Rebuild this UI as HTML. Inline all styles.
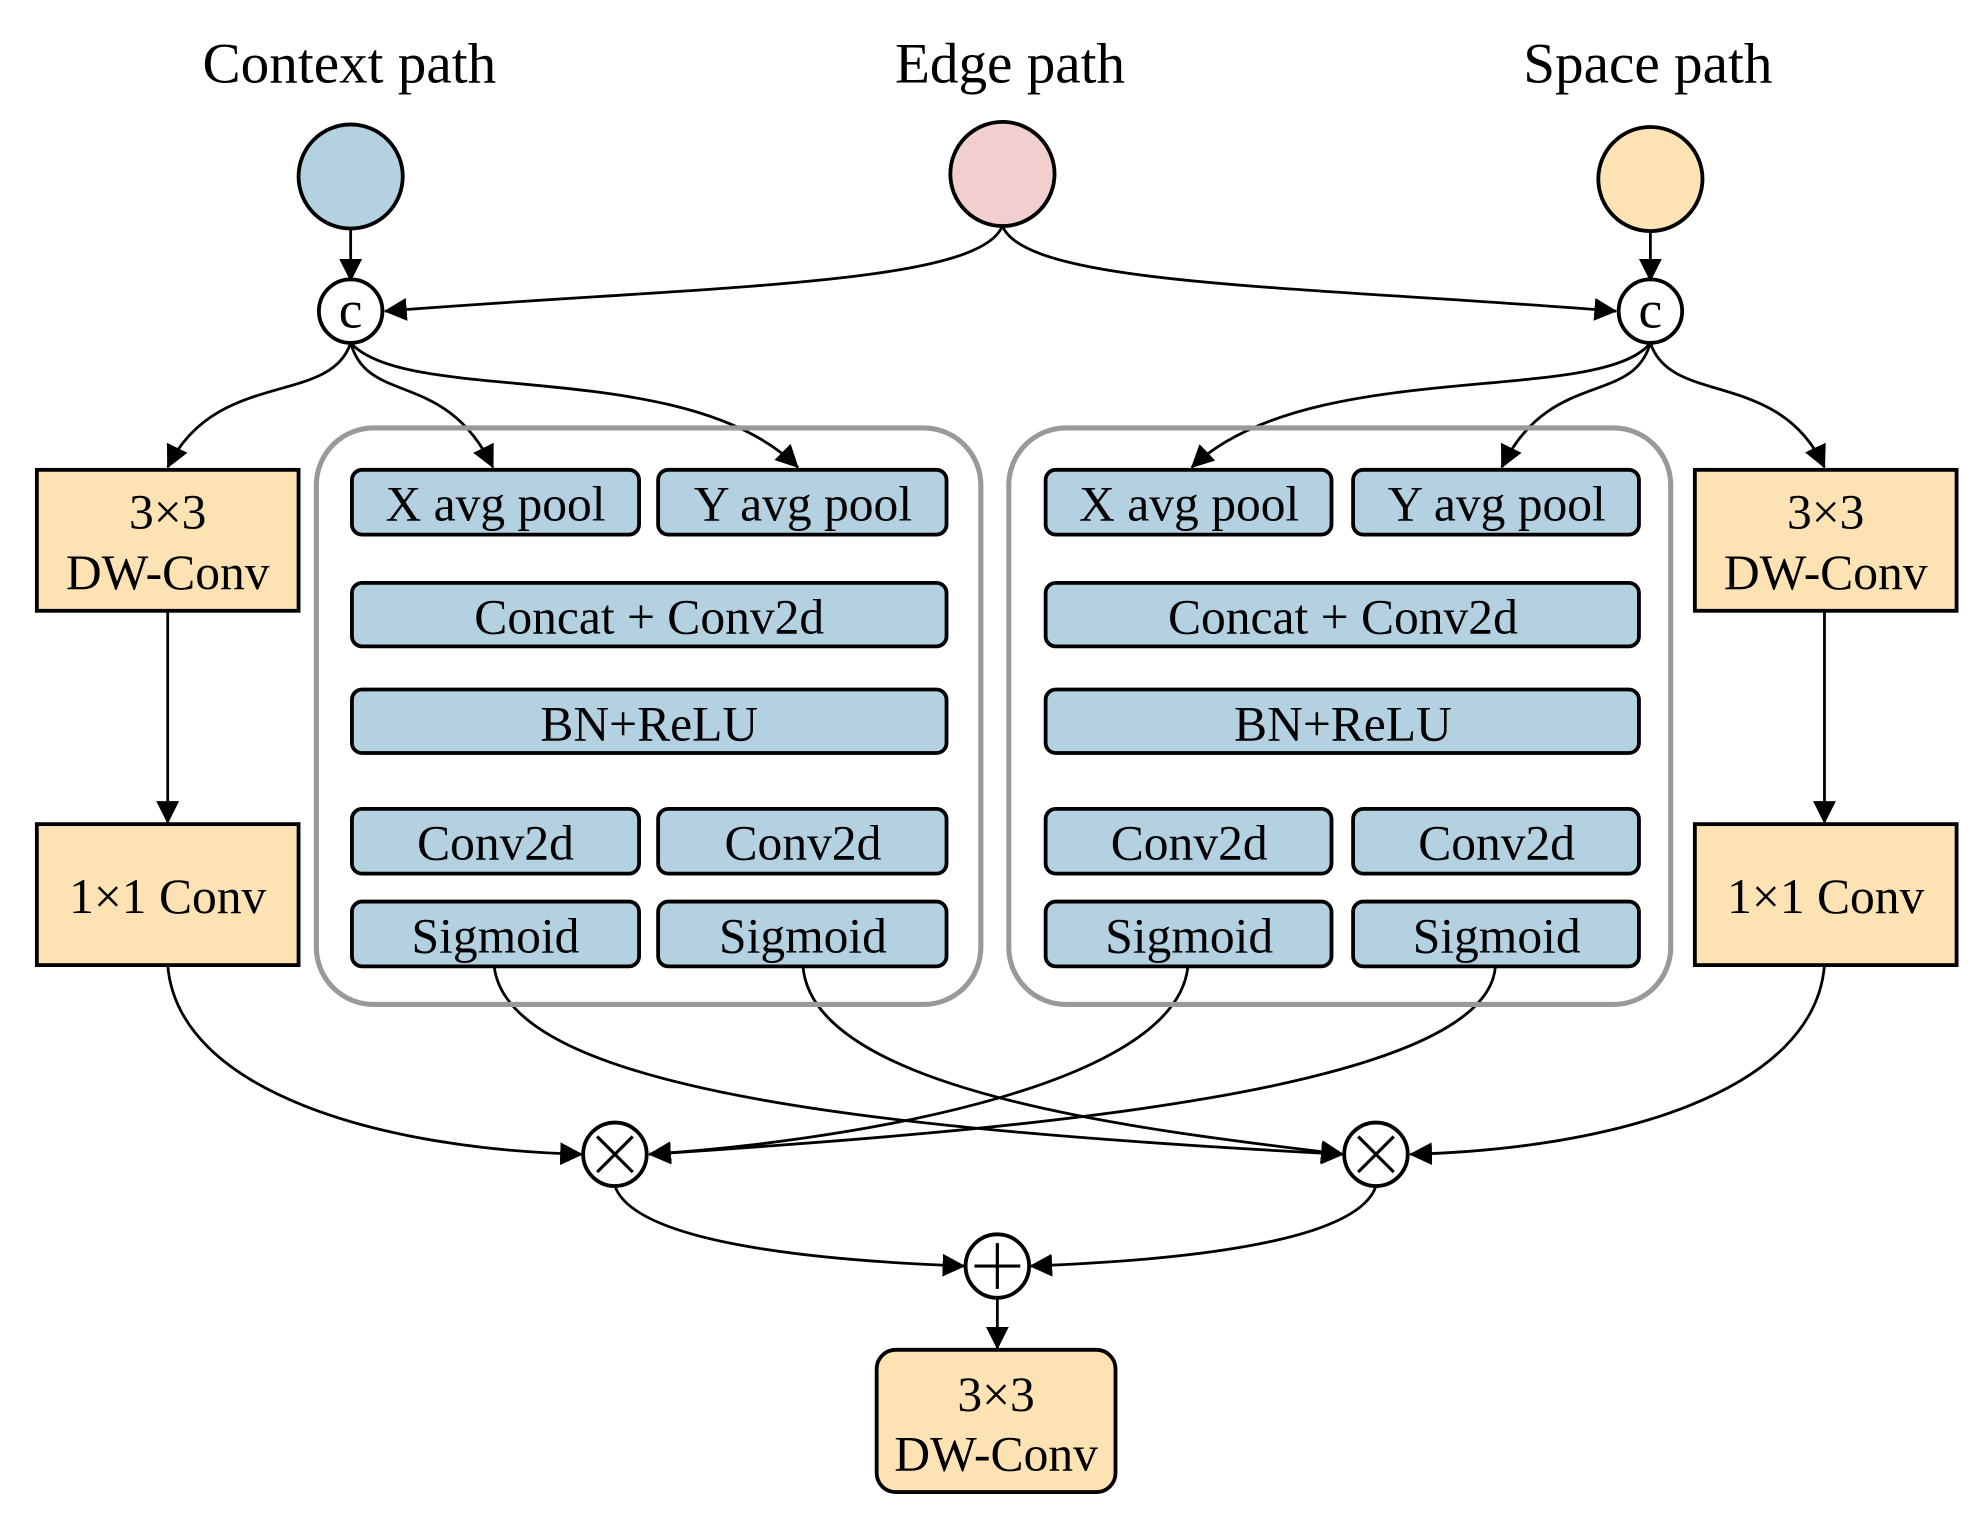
<!DOCTYPE html>
<html><head><meta charset="utf-8"><style>html,body{margin:0;padding:0;background:#fff}svg{display:block}</style></head>
<body>
<svg width="1982" height="1520" viewBox="0 0 1560 1197" preserveAspectRatio="none" xmlns="http://www.w3.org/2000/svg" font-family="Liberation Serif, serif">
<defs><marker id="b" viewBox="0 0 10 10" refX="9.5" refY="5" markerWidth="18" markerHeight="18" markerUnits="userSpaceOnUse" orient="auto"><path d="M0,0L10,5L0,10z" fill="#000"/></marker></defs>
<g font-size="45" text-anchor="middle">
<text x="275" y="65">Context path</text><text x="795" y="65">Edge path</text><text x="1297" y="65">Space path</text></g>
<g stroke="#000" stroke-width="3">
<circle cx="276" cy="139" r="41" fill="#b3d1e0"/><circle cx="789" cy="137" r="41" fill="#f2cfcf"/><circle cx="1299" cy="141" r="41" fill="#fde2b4"/>
<circle cx="276" cy="245" r="25" fill="#fff"/><circle cx="1299" cy="245" r="25" fill="#fff"/>
<circle cx="484" cy="909" r="25" fill="#fff"/><circle cx="1083" cy="909" r="25" fill="#fff"/><circle cx="785" cy="997" r="25" fill="#fff"/>
<path d="M470,895L498,923M498,895L470,923M1069,895L1097,923M1097,895L1069,923M767,997H803M785,979V1015" fill="none" stroke-width="2.5"/>
</g>
<g font-size="42" text-anchor="middle"><text x="276" y="258">c</text><text x="1299" y="258">c</text></g>
<g fill="none" stroke="#000" stroke-width="2.2" marker-end="url(#b)">
<path d="M276,180V221"/><path d="M1299,182V221"/>
<path d="M789,178C770,225 560,225 303,245"/><path d="M789,178C808,225 1020,225 1272,245"/>
<path d="M276,270C260,320 170,290 132,368"/><path d="M276,270C290,320 350,290 388,368"/><path d="M276,270C320,320 540,280 628,368"/>
<path d="M1299,270C1260,320 1030,280 938,368"/><path d="M1299,270C1285,320 1220,290 1182,368"/><path d="M1299,270C1315,320 1400,290 1436,368"/>
<path d="M132,481V648"/><path d="M1436,481V648"/>
<path d="M132,760C140,860 300,905 458,909"/><path d="M1436,760C1428,860 1270,905 1110,909"/>
<path d="M389,761C400,860 700,890 1057,909"/><path d="M632,761C640,860 900,890 1057,909"/>
<path d="M935,761C925,860 650,900 511,909"/><path d="M1177,761C1170,860 800,890 511,909"/>
<path d="M484,934C500,980 650,993 759,997"/><path d="M1083,934C1068,980 920,993 811,997"/>
<path d="M785,1022V1062"/>
</g>
<g fill="none" stroke="#999" stroke-width="4"><rect x="249" y="337" width="523" height="454" rx="45"/><rect x="794" y="337" width="521" height="454" rx="45"/></g>
<g stroke="#000" stroke-width="3" fill="#fde2b4">
<rect x="29" y="370" width="206" height="111"/><rect x="29" y="649" width="206" height="111"/>
<rect x="1334" y="370" width="206" height="111"/><rect x="1334" y="649" width="206" height="111"/>
<rect x="690" y="1063" width="188" height="112" rx="15"/></g>
<g stroke="#000" stroke-width="3" fill="#b3d1e0">
<rect x="277" y="370" width="226" height="51" rx="8"/><rect x="518" y="370" width="227" height="51" rx="8"/>
<rect x="277" y="459" width="468" height="50" rx="8"/><rect x="277" y="543" width="468" height="50" rx="8"/>
<rect x="277" y="637" width="226" height="51" rx="8"/><rect x="518" y="637" width="227" height="51" rx="8"/>
<rect x="277" y="710" width="226" height="51" rx="8"/><rect x="518" y="710" width="227" height="51" rx="8"/>
<rect x="823" y="370" width="225" height="51" rx="8"/><rect x="1065" y="370" width="225" height="51" rx="8"/>
<rect x="823" y="459" width="467" height="50" rx="8"/><rect x="823" y="543" width="467" height="50" rx="8"/>
<rect x="823" y="637" width="225" height="51" rx="8"/><rect x="1065" y="637" width="225" height="51" rx="8"/>
<rect x="823" y="710" width="225" height="51" rx="8"/><rect x="1065" y="710" width="225" height="51" rx="8"/></g>
<g font-size="39" text-anchor="middle">
<text x="132" y="416">3×3</text><text x="132" y="464">DW-Conv</text><text x="132" y="719">1×1 Conv</text>
<text x="1437" y="416">3×3</text><text x="1437" y="464">DW-Conv</text><text x="1437" y="719">1×1 Conv</text>
<text x="784" y="1111">3×3</text><text x="784" y="1158">DW-Conv</text>
<text x="390" y="410">X avg pool</text><text x="632" y="410">Y avg pool</text>
<text x="511" y="499">Concat + Conv2d</text><text x="511" y="583">BN+ReLU</text>
<text x="390" y="677">Conv2d</text><text x="632" y="677">Conv2d</text>
<text x="390" y="750">Sigmoid</text><text x="632" y="750">Sigmoid</text>
<text x="936" y="410">X avg pool</text><text x="1178" y="410">Y avg pool</text>
<text x="1057" y="499">Concat + Conv2d</text><text x="1057" y="583">BN+ReLU</text>
<text x="936" y="677">Conv2d</text><text x="1178" y="677">Conv2d</text>
<text x="936" y="750">Sigmoid</text><text x="1178" y="750">Sigmoid</text>
</g>
</svg>
</body></html>
